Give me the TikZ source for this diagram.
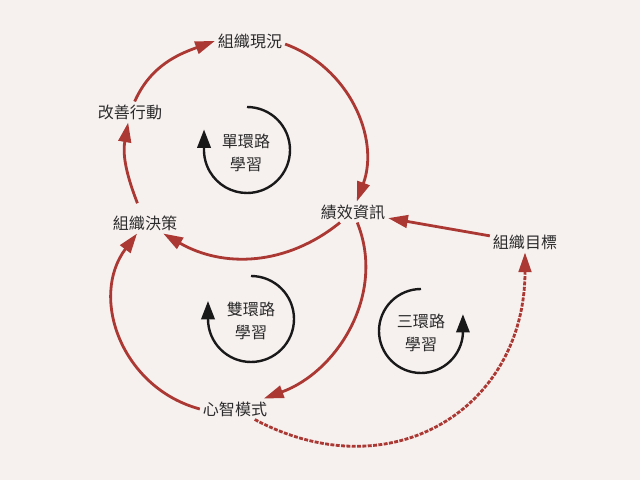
\documentclass[tikz,border=0pt]{standalone}
\usepackage{fontspec}
\usepackage{xcolor}
\usepackage{tikz}
\newfontfamily\cjk{Noto Sans CJK TC}
\usetikzlibrary{positioning,arrows.meta}
\definecolor{paper}{HTML}{F6F1EF}
\definecolor{loopred}{HTML}{AC3833}
\definecolor{ink}{HTML}{2B2B2B}

\begin{document}
\begin{tikzpicture}[x=0.025cm, y=0.025cm,
    concept/.style={text=ink, font=\cjk\fontsize{11.4}{16.3}\selectfont, inner sep=2pt},
    looplabel/.style={concept, align=center},
    link/.style={draw=loopred, line width=2pt, -{Triangle[length=14pt,width=9pt]}},
    loopring/.style={draw=black!90, line width=1.7pt, -{Triangle[length=13pt,width=9.5pt]}}]
    % Background
    \fill [paper] (0,0) rectangle (640,480);
    \useasboundingbox (0,0) rectangle (640,480);

    % Concepts
    \node [concept] (now) at (250,439) {組織現況};
    \node [concept] (act) at (130,368) {改善行動};
    \node [concept] (dec) at (145,257) {組織決策};
    \node [concept] (info) at (353,268) {績效資訊};
    \node [concept] (goal) at (525,238) {組織目標};
    \node [concept] (mind) at (235,71) {心智模式};

    % Loop labels
    \node [looplabel] (sgl) at (246,327) {單環路\\學習};
    \node [looplabel] (dbl) at (251,159) {雙環路\\學習};
    \node [looplabel] (tpl) at (421,147) {三環路\\學習};

    % Loop arrows
    \draw [loopring] (sgl) ++(1,46) arc [start angle=90, end angle=-182, radius=43] -- ++(0,19);
    \draw [loopring] (dbl) ++(0,45) arc [start angle=90, end angle=-180, radius=43] -- ++(0,18);
    \draw [loopring] (tpl) ++(0,44) arc [start angle=90, end angle=357, radius=42] -- ++(0,19);

    % Single loop
    \draw [link] (act) to [out=66, in=200] (now.west);
    \draw [link] (now.-5) to [out=-20, in=70] (info);
    \draw [link] (info) to [out=219, in=-30] (dec);
    \draw [link, shorten <=7pt] (dec) to [out=111, in=-100] (act);

    % Double loop
    \draw [link] (info) to [out=-68, in=20] (mind);
    \draw [link] (mind.west) to [out=165, in=-127, looseness=1.1] (dec);

    % Triple loop
    \draw [link] (goal) -- (info);
    \draw [link, dash pattern=on 2.8pt off 1pt] (mind) to [out=-28, in=-90, looseness=1.25] (goal);
\end{tikzpicture}
\end{document}
